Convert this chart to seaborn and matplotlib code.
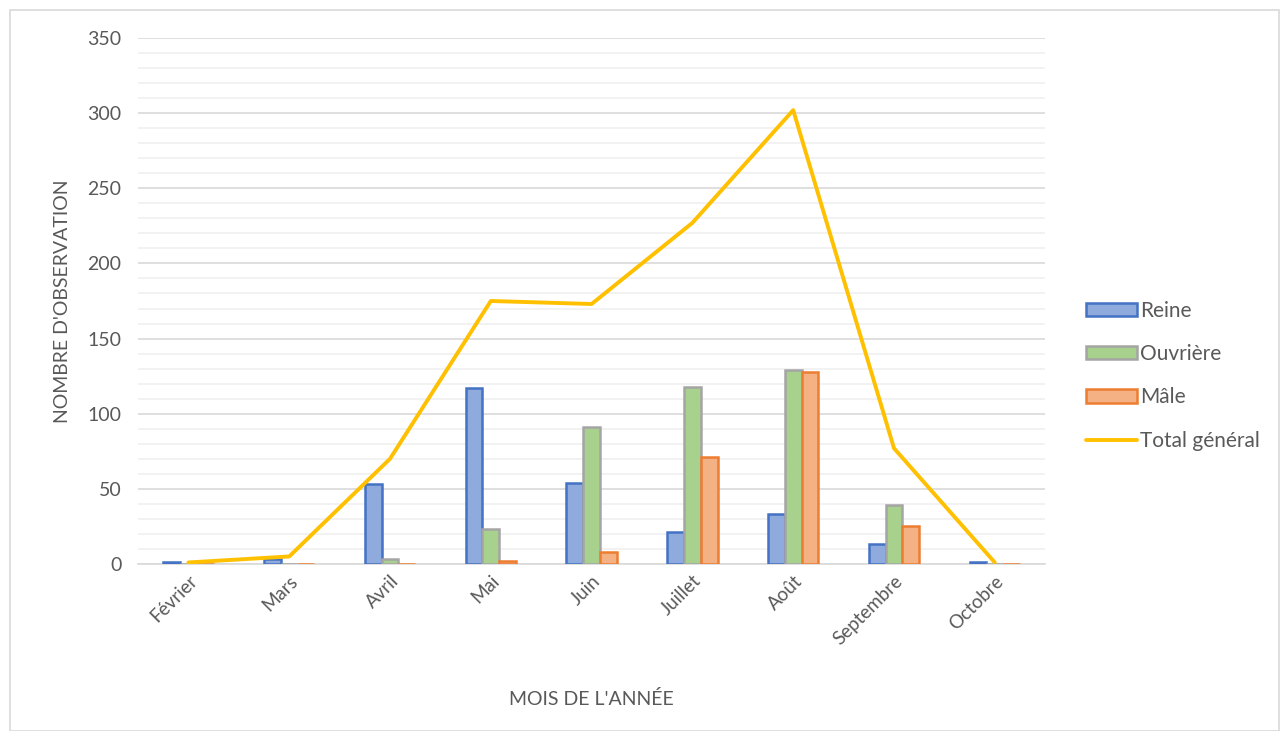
import numpy as np
import pandas as pd
import matplotlib
matplotlib.use("Agg")
import matplotlib.pyplot as plt
from matplotlib.patches import Patch, Rectangle
from matplotlib.lines import Line2D
from matplotlib.ticker import MultipleLocator
import seaborn as sns

# Observations per month and caste
mois = ["Février", "Mars", "Avril", "Mai", "Juin", "Juillet", "Août", "Septembre", "Octobre"]
reine = [1, 3, 53, 117, 54, 21, 33, 13, 1]
ouvriere = [0, 0, 3, 23, 91, 118, 129, 39, 0]
male = [0, 0, 0, 2, 8, 71, 128, 25, 0]
total = [1, 5, 70, 175, 173, 227, 302, 77, 1]

castes = ["Reine", "Ouvrière", "Mâle"]
fill_colors = ["#8FAADC", "#A9D18E", "#F4B183"]
edge_colors = ["#4472C4", "#A5A5A5", "#ED7D31"]
line_color = "#FFC000"
text_color = "#595959"

df = pd.DataFrame({
    "Mois": mois * 3,
    "Caste": sum([[c] * len(mois) for c in castes], []),
    "Nombre": reine + ouvriere + male,
})

sns.set_theme(style="white")
plt.rcParams["font.family"] = ["Lato", "DejaVu Sans"]

fig = plt.figure(figsize=(12.84, 7.31), dpi=100)
ax = fig.add_axes([0.1075, 0.2285, 0.7065, 0.7195])

sns.barplot(data=df, x="Mois", y="Nombre", hue="Caste", order=mois,
            hue_order=castes, palette=fill_colors, saturation=1, width=0.5,
            ax=ax, legend=False, linewidth=1.8, zorder=3)
for cont, ec in zip(ax.containers, edge_colors):
    for bar in cont:
        bar.set_edgecolor(ec)

sns.lineplot(x=mois, y=total, sort=False, color=line_color, linewidth=2.8,
             ax=ax, zorder=4)

ax.set_xlim(-0.5, len(mois) - 0.5)
ax.set_ylim(0, 350)
ax.yaxis.set_major_locator(MultipleLocator(50))
ax.yaxis.set_minor_locator(MultipleLocator(10))
ax.grid(axis="y", which="major", color="#D9D9D9", linewidth=1.2, zorder=0)
ax.grid(axis="y", which="minor", color="#F0F0F0", linewidth=1.2, zorder=0)
ax.set_axisbelow(True)

for side in ["top", "right", "left"]:
    ax.spines[side].set_visible(False)
ax.spines["bottom"].set_color("#D9D9D9")
ax.spines["bottom"].set_linewidth(1.2)

ax.tick_params(axis="y", which="both", length=0, pad=12, labelsize=14,
               labelcolor=text_color)
ax.tick_params(axis="x", length=0, pad=6, labelsize=13.5, labelcolor=text_color)
plt.setp(ax.get_xticklabels(), rotation=45, ha="right", rotation_mode="anchor")

ax.set_xlabel("MOIS DE L'ANNÉE", fontsize=14, color=text_color, labelpad=30)
ax.set_ylabel("NOMBRE D'OBSERVATION", fontsize=14, color=text_color, labelpad=12)

handles = [Patch(facecolor=f, edgecolor=e, linewidth=1.8) for f, e in zip(fill_colors, edge_colors)]
handles.append(Line2D([0], [0], color=line_color, linewidth=2.8))
leg = fig.legend(handles, castes + ["Total général"], loc="center left",
                 bbox_to_anchor=(0.831, 0.486), frameon=False, fontsize=15,
                 handlelength=2.45, handleheight=0.6, handletextpad=0.15,
                 labelspacing=1.12)
for t in leg.get_texts():
    t.set_color(text_color)

# Light chart frame
fig.patches.append(Rectangle((0.008, 0.0), 0.988, 0.986, transform=fig.transFigure,
                             fill=False, edgecolor="#D9D9D9", linewidth=1.2))

fig.savefig("out.png", dpi=100, facecolor="white")
